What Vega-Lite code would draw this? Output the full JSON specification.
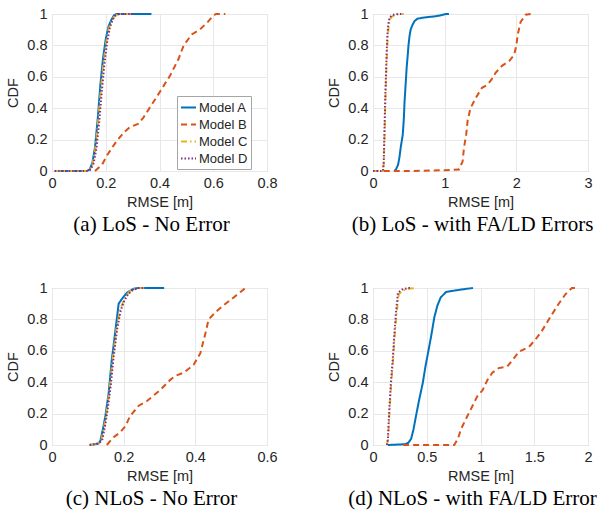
{
"$schema": "https://vega.github.io/schema/vega-lite/v6.json",
"padding": {"left": 5, "top": 5, "right": 5, "bottom": 5},
"config": {
 "font": "Liberation Sans",
 "view": {"stroke": "#a6a6a6", "strokeWidth": 1},
 "axis": {"labelFont": "Liberation Sans", "labelFontSize": 14.5, "labelColor": "#262626", "titleFont": "Liberation Sans", "titleFontSize": 14.5, "titleFontWeight": "normal", "titleColor": "#262626", "gridColor": "#e8e8e8", "domain": false, "ticks": false, "labelPadding": 5, "titlePadding": 6, "labelFlush": false, "labelOverlap": false},
 "title": {"orient": "bottom", "font": "Liberation Serif", "fontSize": 21, "fontWeight": "normal", "color": "black", "offset": 5, "anchor": "middle", "dx": -8},
 "legend": {"labelFont": "Liberation Sans", "labelFontSize": 13, "labelColor": "#262626", "symbolType": "stroke", "symbolSize": 225, "symbolStrokeWidth": 2, "strokeColor": "#a6a6a6", "fillColor": "white", "padding": 3, "rowPadding": 1, "labelOffset": 2}
},
"datasets": {"d": [
{"p":"a","m":"Model A","x":0.01,"y":0},{"p":"a","m":"Model A","x":0.13,"y":0},{"p":"a","m":"Model A","x":0.14,"y":0.01},{"p":"a","m":"Model A","x":0.15,"y":0.05},{"p":"a","m":"Model A","x":0.16,"y":0.15},{"p":"a","m":"Model A","x":0.17,"y":0.33},{"p":"a","m":"Model A","x":0.18,"y":0.55},{"p":"a","m":"Model A","x":0.19,"y":0.72},{"p":"a","m":"Model A","x":0.2,"y":0.84},{"p":"a","m":"Model A","x":0.21,"y":0.92},{"p":"a","m":"Model A","x":0.22,"y":0.96},{"p":"a","m":"Model A","x":0.23,"y":0.99},{"p":"a","m":"Model A","x":0.24,"y":1},{"p":"a","m":"Model A","x":0.37,"y":1},
{"p":"a","m":"Model B","x":0.16,"y":0},{"p":"a","m":"Model B","x":0.186,"y":0.04},{"p":"a","m":"Model B","x":0.205,"y":0.1},{"p":"a","m":"Model B","x":0.24,"y":0.19},{"p":"a","m":"Model B","x":0.27,"y":0.25},{"p":"a","m":"Model B","x":0.29,"y":0.28},{"p":"a","m":"Model B","x":0.32,"y":0.3},{"p":"a","m":"Model B","x":0.34,"y":0.34},{"p":"a","m":"Model B","x":0.37,"y":0.42},{"p":"a","m":"Model B","x":0.4,"y":0.5},{"p":"a","m":"Model B","x":0.44,"y":0.61},{"p":"a","m":"Model B","x":0.47,"y":0.71},{"p":"a","m":"Model B","x":0.49,"y":0.8},{"p":"a","m":"Model B","x":0.52,"y":0.87},{"p":"a","m":"Model B","x":0.55,"y":0.9},{"p":"a","m":"Model B","x":0.58,"y":0.95},{"p":"a","m":"Model B","x":0.6,"y":0.99},{"p":"a","m":"Model B","x":0.61,"y":1},{"p":"a","m":"Model B","x":0.645,"y":1},
{"p":"a","m":"Model C","x":0.01,"y":0},{"p":"a","m":"Model C","x":0.13,"y":0},{"p":"a","m":"Model C","x":0.14,"y":0.01},{"p":"a","m":"Model C","x":0.15,"y":0.04},{"p":"a","m":"Model C","x":0.16,"y":0.12},{"p":"a","m":"Model C","x":0.17,"y":0.28},{"p":"a","m":"Model C","x":0.18,"y":0.48},{"p":"a","m":"Model C","x":0.19,"y":0.66},{"p":"a","m":"Model C","x":0.2,"y":0.8},{"p":"a","m":"Model C","x":0.21,"y":0.9},{"p":"a","m":"Model C","x":0.22,"y":0.95},{"p":"a","m":"Model C","x":0.23,"y":0.98},{"p":"a","m":"Model C","x":0.245,"y":1},{"p":"a","m":"Model C","x":0.3,"y":1},
{"p":"a","m":"Model D","x":0.01,"y":0},{"p":"a","m":"Model D","x":0.13,"y":0},{"p":"a","m":"Model D","x":0.145,"y":0.01},{"p":"a","m":"Model D","x":0.155,"y":0.05},{"p":"a","m":"Model D","x":0.165,"y":0.14},{"p":"a","m":"Model D","x":0.175,"y":0.3},{"p":"a","m":"Model D","x":0.185,"y":0.5},{"p":"a","m":"Model D","x":0.195,"y":0.68},{"p":"a","m":"Model D","x":0.205,"y":0.82},{"p":"a","m":"Model D","x":0.215,"y":0.91},{"p":"a","m":"Model D","x":0.225,"y":0.96},{"p":"a","m":"Model D","x":0.235,"y":0.99},{"p":"a","m":"Model D","x":0.25,"y":1},{"p":"a","m":"Model D","x":0.31,"y":1},
{"p":"b","m":"Model A","x":0.3,"y":0},{"p":"b","m":"Model A","x":0.32,"y":0.01},{"p":"b","m":"Model A","x":0.35,"y":0.04},{"p":"b","m":"Model A","x":0.37,"y":0.09},{"p":"b","m":"Model A","x":0.39,"y":0.16},{"p":"b","m":"Model A","x":0.415,"y":0.23},{"p":"b","m":"Model A","x":0.43,"y":0.33},{"p":"b","m":"Model A","x":0.44,"y":0.44},{"p":"b","m":"Model A","x":0.455,"y":0.55},{"p":"b","m":"Model A","x":0.47,"y":0.66},{"p":"b","m":"Model A","x":0.485,"y":0.74},{"p":"b","m":"Model A","x":0.495,"y":0.8},{"p":"b","m":"Model A","x":0.51,"y":0.86},{"p":"b","m":"Model A","x":0.525,"y":0.9},{"p":"b","m":"Model A","x":0.55,"y":0.93},{"p":"b","m":"Model A","x":0.58,"y":0.955},{"p":"b","m":"Model A","x":0.62,"y":0.97},{"p":"b","m":"Model A","x":0.69,"y":0.976},{"p":"b","m":"Model A","x":0.8,"y":0.982},{"p":"b","m":"Model A","x":0.88,"y":0.986},{"p":"b","m":"Model A","x":0.95,"y":0.992},{"p":"b","m":"Model A","x":1.02,"y":1},{"p":"b","m":"Model A","x":1.06,"y":1},
{"p":"b","m":"Model B","x":0.15,"y":0},{"p":"b","m":"Model B","x":0.5,"y":0},{"p":"b","m":"Model B","x":1.0,"y":0.005},{"p":"b","m":"Model B","x":1.2,"y":0.01},{"p":"b","m":"Model B","x":1.25,"y":0.06},{"p":"b","m":"Model B","x":1.27,"y":0.15},{"p":"b","m":"Model B","x":1.3,"y":0.23},{"p":"b","m":"Model B","x":1.32,"y":0.32},{"p":"b","m":"Model B","x":1.36,"y":0.4},{"p":"b","m":"Model B","x":1.44,"y":0.47},{"p":"b","m":"Model B","x":1.52,"y":0.53},{"p":"b","m":"Model B","x":1.6,"y":0.55},{"p":"b","m":"Model B","x":1.65,"y":0.58},{"p":"b","m":"Model B","x":1.71,"y":0.625},{"p":"b","m":"Model B","x":1.8,"y":0.67},{"p":"b","m":"Model B","x":1.9,"y":0.7},{"p":"b","m":"Model B","x":1.97,"y":0.74},{"p":"b","m":"Model B","x":2.0,"y":0.8},{"p":"b","m":"Model B","x":2.02,"y":0.87},{"p":"b","m":"Model B","x":2.06,"y":0.95},{"p":"b","m":"Model B","x":2.13,"y":0.995},{"p":"b","m":"Model B","x":2.2,"y":1},
{"p":"b","m":"Model C","x":0,"y":0},{"p":"b","m":"Model C","x":0.14,"y":0},{"p":"b","m":"Model C","x":0.15,"y":0.05},{"p":"b","m":"Model C","x":0.16,"y":0.2},{"p":"b","m":"Model C","x":0.17,"y":0.4},{"p":"b","m":"Model C","x":0.18,"y":0.55},{"p":"b","m":"Model C","x":0.19,"y":0.7},{"p":"b","m":"Model C","x":0.205,"y":0.85},{"p":"b","m":"Model C","x":0.22,"y":0.93},{"p":"b","m":"Model C","x":0.24,"y":0.97},{"p":"b","m":"Model C","x":0.27,"y":0.985},{"p":"b","m":"Model C","x":0.32,"y":0.995},{"p":"b","m":"Model C","x":0.38,"y":1},{"p":"b","m":"Model C","x":0.43,"y":1},
{"p":"b","m":"Model D","x":0,"y":0},{"p":"b","m":"Model D","x":0.14,"y":0},{"p":"b","m":"Model D","x":0.15,"y":0.06},{"p":"b","m":"Model D","x":0.16,"y":0.25},{"p":"b","m":"Model D","x":0.17,"y":0.45},{"p":"b","m":"Model D","x":0.18,"y":0.6},{"p":"b","m":"Model D","x":0.19,"y":0.74},{"p":"b","m":"Model D","x":0.2,"y":0.86},{"p":"b","m":"Model D","x":0.215,"y":0.94},{"p":"b","m":"Model D","x":0.23,"y":0.975},{"p":"b","m":"Model D","x":0.26,"y":0.99},{"p":"b","m":"Model D","x":0.3,"y":0.997},{"p":"b","m":"Model D","x":0.35,"y":1},{"p":"b","m":"Model D","x":0.4,"y":1},
{"p":"c","m":"Model A","x":0.105,"y":0},{"p":"c","m":"Model A","x":0.12,"y":0.005},{"p":"c","m":"Model A","x":0.13,"y":0.01},{"p":"c","m":"Model A","x":0.135,"y":0.027},{"p":"c","m":"Model A","x":0.142,"y":0.1},{"p":"c","m":"Model A","x":0.149,"y":0.185},{"p":"c","m":"Model A","x":0.158,"y":0.33},{"p":"c","m":"Model A","x":0.167,"y":0.545},{"p":"c","m":"Model A","x":0.177,"y":0.73},{"p":"c","m":"Model A","x":0.186,"y":0.9},{"p":"c","m":"Model A","x":0.195,"y":0.93},{"p":"c","m":"Model A","x":0.209,"y":0.97},{"p":"c","m":"Model A","x":0.228,"y":0.995},{"p":"c","m":"Model A","x":0.24,"y":1},{"p":"c","m":"Model A","x":0.313,"y":1},
{"p":"c","m":"Model B","x":0.153,"y":0},{"p":"c","m":"Model B","x":0.172,"y":0.05},{"p":"c","m":"Model B","x":0.19,"y":0.08},{"p":"c","m":"Model B","x":0.205,"y":0.12},{"p":"c","m":"Model B","x":0.218,"y":0.185},{"p":"c","m":"Model B","x":0.242,"y":0.25},{"p":"c","m":"Model B","x":0.265,"y":0.28},{"p":"c","m":"Model B","x":0.302,"y":0.35},{"p":"c","m":"Model B","x":0.33,"y":0.415},{"p":"c","m":"Model B","x":0.344,"y":0.44},{"p":"c","m":"Model B","x":0.367,"y":0.46},{"p":"c","m":"Model B","x":0.395,"y":0.51},{"p":"c","m":"Model B","x":0.414,"y":0.585},{"p":"c","m":"Model B","x":0.428,"y":0.71},{"p":"c","m":"Model B","x":0.437,"y":0.8},{"p":"c","m":"Model B","x":0.456,"y":0.845},{"p":"c","m":"Model B","x":0.479,"y":0.89},{"p":"c","m":"Model B","x":0.507,"y":0.94},{"p":"c","m":"Model B","x":0.526,"y":0.975},{"p":"c","m":"Model B","x":0.54,"y":1},
{"p":"c","m":"Model C","x":0.105,"y":0},{"p":"c","m":"Model C","x":0.13,"y":0.01},{"p":"c","m":"Model C","x":0.138,"y":0.03},{"p":"c","m":"Model C","x":0.146,"y":0.12},{"p":"c","m":"Model C","x":0.153,"y":0.22},{"p":"c","m":"Model C","x":0.162,"y":0.38},{"p":"c","m":"Model C","x":0.17,"y":0.56},{"p":"c","m":"Model C","x":0.18,"y":0.74},{"p":"c","m":"Model C","x":0.19,"y":0.86},{"p":"c","m":"Model C","x":0.2,"y":0.92},{"p":"c","m":"Model C","x":0.21,"y":0.96},{"p":"c","m":"Model C","x":0.22,"y":0.985},{"p":"c","m":"Model C","x":0.235,"y":1},{"p":"c","m":"Model C","x":0.26,"y":1},
{"p":"c","m":"Model D","x":0.105,"y":0},{"p":"c","m":"Model D","x":0.13,"y":0.01},{"p":"c","m":"Model D","x":0.14,"y":0.03},{"p":"c","m":"Model D","x":0.148,"y":0.12},{"p":"c","m":"Model D","x":0.155,"y":0.22},{"p":"c","m":"Model D","x":0.164,"y":0.38},{"p":"c","m":"Model D","x":0.172,"y":0.56},{"p":"c","m":"Model D","x":0.182,"y":0.74},{"p":"c","m":"Model D","x":0.192,"y":0.86},{"p":"c","m":"Model D","x":0.202,"y":0.92},{"p":"c","m":"Model D","x":0.212,"y":0.96},{"p":"c","m":"Model D","x":0.225,"y":0.985},{"p":"c","m":"Model D","x":0.24,"y":1},{"p":"c","m":"Model D","x":0.26,"y":1},
{"p":"d","m":"Model A","x":0.14,"y":0},{"p":"d","m":"Model A","x":0.3,"y":0.005},{"p":"d","m":"Model A","x":0.33,"y":0.015},{"p":"d","m":"Model A","x":0.355,"y":0.04},{"p":"d","m":"Model A","x":0.377,"y":0.1},{"p":"d","m":"Model A","x":0.4,"y":0.185},{"p":"d","m":"Model A","x":0.43,"y":0.29},{"p":"d","m":"Model A","x":0.463,"y":0.395},{"p":"d","m":"Model A","x":0.488,"y":0.5},{"p":"d","m":"Model A","x":0.51,"y":0.58},{"p":"d","m":"Model A","x":0.54,"y":0.69},{"p":"d","m":"Model A","x":0.571,"y":0.815},{"p":"d","m":"Model A","x":0.6,"y":0.89},{"p":"d","m":"Model A","x":0.63,"y":0.94},{"p":"d","m":"Model A","x":0.68,"y":0.975},{"p":"d","m":"Model A","x":0.77,"y":0.985},{"p":"d","m":"Model A","x":0.86,"y":0.994},{"p":"d","m":"Model A","x":0.93,"y":1},
{"p":"d","m":"Model B","x":0.28,"y":0},{"p":"d","m":"Model B","x":0.756,"y":0},{"p":"d","m":"Model B","x":0.79,"y":0.04},{"p":"d","m":"Model B","x":0.818,"y":0.1},{"p":"d","m":"Model B","x":0.864,"y":0.165},{"p":"d","m":"Model B","x":0.926,"y":0.25},{"p":"d","m":"Model B","x":0.97,"y":0.31},{"p":"d","m":"Model B","x":1.02,"y":0.35},{"p":"d","m":"Model B","x":1.065,"y":0.415},{"p":"d","m":"Model B","x":1.11,"y":0.46},{"p":"d","m":"Model B","x":1.17,"y":0.49},{"p":"d","m":"Model B","x":1.25,"y":0.5},{"p":"d","m":"Model B","x":1.296,"y":0.54},{"p":"d","m":"Model B","x":1.36,"y":0.595},{"p":"d","m":"Model B","x":1.45,"y":0.625},{"p":"d","m":"Model B","x":1.51,"y":0.67},{"p":"d","m":"Model B","x":1.574,"y":0.73},{"p":"d","m":"Model B","x":1.667,"y":0.835},{"p":"d","m":"Model B","x":1.728,"y":0.9},{"p":"d","m":"Model B","x":1.79,"y":0.96},{"p":"d","m":"Model B","x":1.85,"y":1},{"p":"d","m":"Model B","x":1.88,"y":1},
{"p":"d","m":"Model C","x":0.13,"y":0},{"p":"d","m":"Model C","x":0.14,"y":0.04},{"p":"d","m":"Model C","x":0.155,"y":0.23},{"p":"d","m":"Model C","x":0.17,"y":0.4},{"p":"d","m":"Model C","x":0.187,"y":0.54},{"p":"d","m":"Model C","x":0.2,"y":0.68},{"p":"d","m":"Model C","x":0.218,"y":0.83},{"p":"d","m":"Model C","x":0.24,"y":0.96},{"p":"d","m":"Model C","x":0.28,"y":0.985},{"p":"d","m":"Model C","x":0.33,"y":0.995},{"p":"d","m":"Model C","x":0.4,"y":1},
{"p":"d","m":"Model D","x":0.13,"y":0},{"p":"d","m":"Model D","x":0.139,"y":0.04},{"p":"d","m":"Model D","x":0.152,"y":0.23},{"p":"d","m":"Model D","x":0.167,"y":0.4},{"p":"d","m":"Model D","x":0.183,"y":0.54},{"p":"d","m":"Model D","x":0.196,"y":0.68},{"p":"d","m":"Model D","x":0.212,"y":0.83},{"p":"d","m":"Model D","x":0.232,"y":0.97},{"p":"d","m":"Model D","x":0.27,"y":0.99},{"p":"d","m":"Model D","x":0.33,"y":1},{"p":"d","m":"Model D","x":0.36,"y":1}
]},
"data": {"name": "d"},
"columns": 2,
"bounds": "flush",
"spacing": {"row": 117, "column": 106},
"resolve": {"scale": {"x": "independent", "color": "independent", "strokeDash": "independent"}, "legend": {"color": "independent", "strokeDash": "independent"}},
"concat": [
 {"width": 215, "height": 157, "title": "(a) LoS - No Error",
  "transform": [{"filter": "datum.p == 'a'"}],
  "mark": {"type": "line", "strokeWidth": 2},
  "encoding": {
   "x": {"field": "x", "type": "quantitative", "scale": {"domain": [0, 0.8], "nice": false}, "axis": {"values": [0, 0.2, 0.4, 0.6, 0.8], "format": "~g", "title": "RMSE [m]"}},
   "y": {"field": "y", "type": "quantitative", "scale": {"domain": [0, 1], "nice": false}, "axis": {"values": [0, 0.2, 0.4, 0.6, 0.8, 1], "format": "~g", "title": "CDF"}},
   "color": {"field": "m", "type": "nominal", "scale": {"domain": ["Model A", "Model B", "Model C", "Model D"], "range": ["#0072BD", "#D95319", "#EDB120", "#7E2F8E"]}, "legend": {"title": null, "orient": "none", "legendX": 125, "legendY": 82}},
   "strokeDash": {"field": "m", "type": "nominal", "scale": {"domain": ["Model A", "Model B", "Model C", "Model D"], "range": [[1, 0], [6, 4], [6, 3, 1.5, 3], [1.5, 2]]}, "legend": {"title": null, "orient": "none", "legendX": 125, "legendY": 82}}
  }},
 {"width": 215, "height": 157, "title": "(b) LoS - with FA/LD Errors",
  "transform": [{"filter": "datum.p == 'b'"}],
  "mark": {"type": "line", "strokeWidth": 2},
  "encoding": {
   "x": {"field": "x", "type": "quantitative", "scale": {"domain": [0, 3], "nice": false}, "axis": {"values": [0, 1, 2, 3], "format": "~g", "title": "RMSE [m]"}},
   "y": {"field": "y", "type": "quantitative", "scale": {"domain": [0, 1], "nice": false}, "axis": {"values": [0, 0.2, 0.4, 0.6, 0.8, 1], "format": "~g", "title": "CDF"}},
   "color": {"field": "m", "type": "nominal", "scale": {"domain": ["Model A", "Model B", "Model C", "Model D"], "range": ["#0072BD", "#D95319", "#EDB120", "#7E2F8E"]}, "legend": null},
   "strokeDash": {"field": "m", "type": "nominal", "scale": {"domain": ["Model A", "Model B", "Model C", "Model D"], "range": [[1, 0], [6, 4], [6, 3, 1.5, 3], [1.5, 2]]}, "legend": null}
  }},
 {"width": 215, "height": 157, "title": "(c) NLoS - No Error",
  "transform": [{"filter": "datum.p == 'c'"}],
  "mark": {"type": "line", "strokeWidth": 2},
  "encoding": {
   "x": {"field": "x", "type": "quantitative", "scale": {"domain": [0, 0.6], "nice": false}, "axis": {"values": [0, 0.2, 0.4, 0.6], "format": "~g", "title": "RMSE [m]"}},
   "y": {"field": "y", "type": "quantitative", "scale": {"domain": [0, 1], "nice": false}, "axis": {"values": [0, 0.2, 0.4, 0.6, 0.8, 1], "format": "~g", "title": "CDF"}},
   "color": {"field": "m", "type": "nominal", "scale": {"domain": ["Model A", "Model B", "Model C", "Model D"], "range": ["#0072BD", "#D95319", "#EDB120", "#7E2F8E"]}, "legend": null},
   "strokeDash": {"field": "m", "type": "nominal", "scale": {"domain": ["Model A", "Model B", "Model C", "Model D"], "range": [[1, 0], [6, 4], [6, 3, 1.5, 3], [1.5, 2]]}, "legend": null}
  }},
 {"width": 215, "height": 157, "title": "(d) NLoS - with FA/LD Error",
  "transform": [{"filter": "datum.p == 'd'"}],
  "mark": {"type": "line", "strokeWidth": 2},
  "encoding": {
   "x": {"field": "x", "type": "quantitative", "scale": {"domain": [0, 2], "nice": false}, "axis": {"values": [0, 0.5, 1, 1.5, 2], "format": "~g", "title": "RMSE [m]"}},
   "y": {"field": "y", "type": "quantitative", "scale": {"domain": [0, 1], "nice": false}, "axis": {"values": [0, 0.2, 0.4, 0.6, 0.8, 1], "format": "~g", "title": "CDF"}},
   "color": {"field": "m", "type": "nominal", "scale": {"domain": ["Model A", "Model B", "Model C", "Model D"], "range": ["#0072BD", "#D95319", "#EDB120", "#7E2F8E"]}, "legend": null},
   "strokeDash": {"field": "m", "type": "nominal", "scale": {"domain": ["Model A", "Model B", "Model C", "Model D"], "range": [[1, 0], [6, 4], [6, 3, 1.5, 3], [1.5, 2]]}, "legend": null}
  }}
]
}
